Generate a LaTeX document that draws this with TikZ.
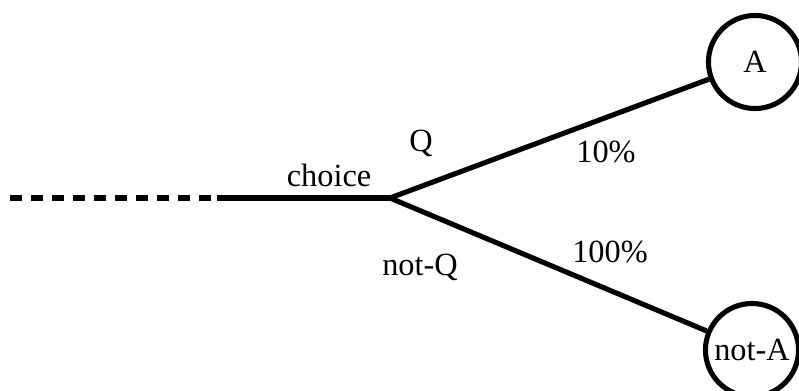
\documentclass[tikz,border=0pt]{standalone}
\usepackage{fontspec}
\setmainfont{Liberation Serif}
\begin{document}
\begin{tikzpicture}[x=0.01cm,y=-0.01cm,
  ln/.style={line width=1.45pt},
  dashln/.style={line width=1.45pt,dash pattern=on 0.12cm off 0.09cm},
  st/.style={draw,circle,line width=1.45pt,minimum size=0.93cm,inner sep=0pt,font=\fontsize{9.2}{11}\selectfont},
  lbl/.style={font=\fontsize{9.2}{11}\selectfont,inner sep=0pt}]
\useasboundingbox (0,0) rectangle (799,391);
\coordinate (start) at (10,198);
\coordinate (mid) at (217,198);
\coordinate (dend) at (250,198);
\coordinate (fork) at (390,198);
\node[st] (A) at (755,62) {A};
\node[st] (notA) at (752,350) {not-A};
\draw[dashln] (start) -- (dend);
\draw[ln] (mid) -- (fork);
\draw[ln] (fork) -- (A);
\draw[ln] (fork) -- (notA);
\node[lbl] (choice) at (329,175) {choice};
\node[lbl] (q) at (421,143) {Q};
\node[lbl] (p10) at (606,152) {10\%};
\node[lbl] (p100) at (610,252) {100\%};
\node[lbl] (notq) at (420,267) {not-Q};
\end{tikzpicture}
\end{document}
